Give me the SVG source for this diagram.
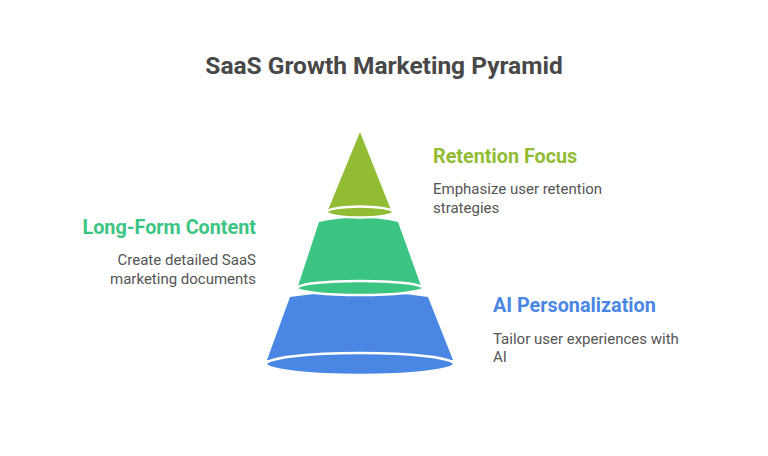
<svg xmlns="http://www.w3.org/2000/svg" width="768" height="456" viewBox="0 0 768 456">
<style>
text{font-family:Roboto,"Liberation Sans",sans-serif}
.t{font-size:24.5px;font-weight:bold;fill:#484848}
.h{font-size:19.8px;font-weight:bold}
.d{font-size:15px;fill:#555}
.sep{stroke:#fff;stroke-width:2.5}
</style>
<rect width="768" height="456" fill="#fff"/>
<text class="t" x="384" y="74" text-anchor="middle">SaaS Growth Marketing Pyramid</text>
<g id="tier3">
<path d="M290,297 Q360,287 428,297 L453,360 L267,360 Z" fill="#4a86e4"/>
<ellipse class="sep" cx="360" cy="364" rx="94" ry="11" fill="#4a86e4"/>
</g>
<g id="tier2">
<path d="M319,222 Q360,213 398,222 L421,286 L298,286 Z" fill="#3cc482"/>
<ellipse class="sep" cx="360" cy="288" rx="63" ry="7" fill="#3cc482"/>
</g>
<g id="tier1">
<path d="M360,132 L391,210 L328,210 Z" fill="#93bc35"/>
<ellipse class="sep" cx="360" cy="212" rx="33" ry="5.5" fill="#93bc35"/>
</g>
<g id="connectors"></g>
<g id="label1">
<text class="h" x="433" y="163" fill="#93bc35">Retention Focus</text>
<text class="d" x="433" y="194">Emphasize user retention</text>
<text class="d" x="433" y="213">strategies</text>
</g>
<g id="label2">
<text class="h" x="256" y="234" fill="#3cc482" text-anchor="end">Long-Form Content</text>
<text class="d" x="256" y="265" text-anchor="end">Create detailed SaaS</text>
<text class="d" x="256" y="284" text-anchor="end">marketing documents</text>
</g>
<g id="label3">
<text class="h" x="493" y="312" fill="#4a86e4">AI Personalization</text>
<text class="d" x="493" y="344">Tailor user experiences with</text>
<text class="d" x="493" y="362">AI</text>
</g>
</svg>
